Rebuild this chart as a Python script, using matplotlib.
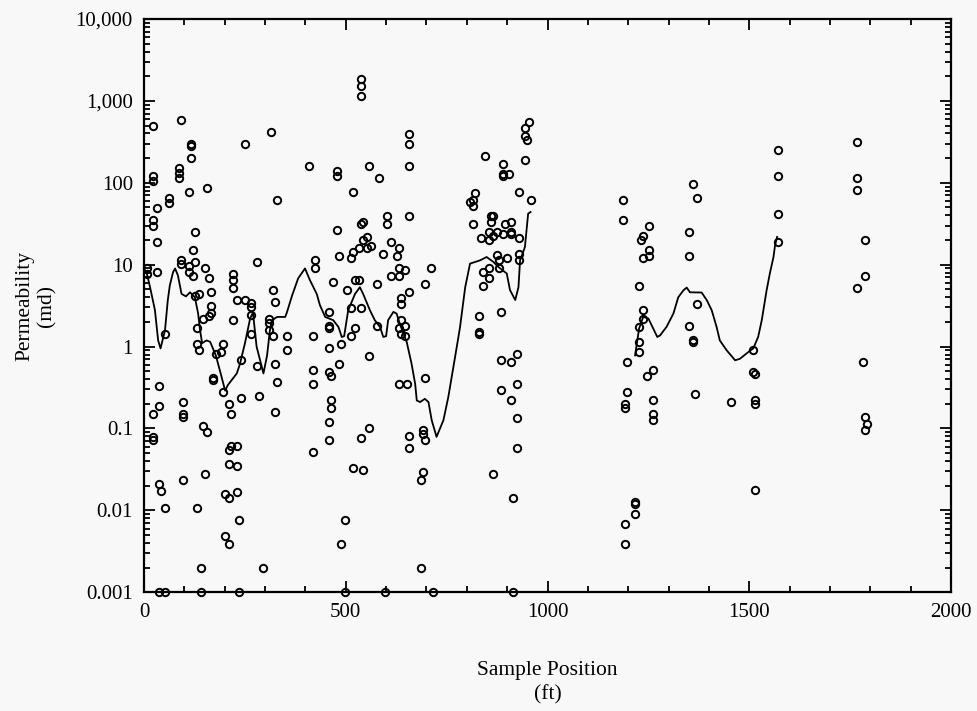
import numpy as np
import matplotlib
matplotlib.use("Agg")
import matplotlib.pyplot as plt
from matplotlib.ticker import LogLocator, NullFormatter, MultipleLocator

# ---- sample data: position (ft), permeability (md) ----
pos_ft = [
    23, 92, 116, 116, 116, 250, 315, 409, 23, 23, 87, 87, 87, 111, 156, 62, 62, 32, 330, 23, 23, 126, 32, 121,
    280, 424, 424, 32, 91, 91, 111, 111, 126, 121, 151, 161, 166, 126, 136, 166, 166, 161, 146, 221, 221, 221,
    230, 250, 265, 265, 265, 221, 320, 325, 310, 310, 310, 131, 52, 265, 320, 354, 419, 7, 7,
    131, 136, 195, 178, 191, 171, 171, 196, 240, 280, 325, 354, 330, 419, 419, 37, 37, 22, 97, 97, 97, 211, 216,
    240, 285, 325, 22, 22, 146, 156, 211, 216, 230, 211, 230, 419, 37, 42, 97, 151, 201, 211, 230, 52, 131, 235,
    201, 211, 141, 295, 37, 52, 141, 235,
    538, 538, 538, 657, 657, 657, 478, 478, 558, 582, 518, 478, 538, 543, 602, 602, 657, 483, 518, 513, 533, 543,
    553, 553, 563, 592, 612, 632, 627, 632, 647, 632, 612, 711, 696, 657, 637, 637, 468, 523, 533, 577, 503, 513,
    538, 458, 458, 458, 513, 523, 577, 637, 632, 647, 637, 647,
    458, 488, 558, 483, 458, 463, 632, 652, 696, 463, 463, 458, 458, 558, 538, 657, 657, 691, 691, 696, 518, 543,
    691, 686, 498, 488, 686, 498, 597, 716,
    954, 944, 944, 949, 944, 845, 890, 890, 905, 890, 929, 959, 820, 815, 808, 815, 815, 860, 865, 860, 895, 910,
    835, 855, 855, 865, 875, 890, 910, 910, 929, 929, 929, 875, 900, 880, 855, 880, 840, 855, 840, 830, 885, 830,
    830, 1187, 1187,
    885, 910, 924, 885, 910, 924, 924, 924, 865, 914, 914, 1197, 1197, 1192, 1192, 1217, 1217, 1217, 1192, 1192,
    1252, 1237, 1232, 1252, 1252, 1237, 1227, 1237, 1237, 1227, 1361, 1371, 1351, 1351, 1371, 1351, 1361, 1570,
    1570, 1570, 1570,
    1227, 1227, 1262, 1247, 1262, 1262, 1262, 1361, 1366, 1455, 1510, 1510, 1515, 1515, 1515, 1515,
    1768, 1768, 1768, 1787, 1787, 1768, 1783, 1787, 1792, 1787,
]
perm_md = [
    490, 590, 300, 280, 200, 296, 417, 160, 121, 104, 151, 130, 114, 77, 87, 65, 56, 49, 62, 35, 30, 25, 19, 15,
    10.8, 11.4, 9.1, 8.1, 11.4, 10.2, 9.6, 8.1, 10.8, 7.3, 9.1, 6.9, 4.6, 4.15, 4.4, 3.1, 2.6, 2.37, 2.2, 7.7, 6.5, 5.2,
    3.7, 3.7, 3.4, 3.08, 2.4, 2.1, 4.9, 3.5, 2.2, 1.96, 1.6, 1.69, 1.43, 1.43, 1.35, 1.35, 1.35, 9.0, 7.6,
    1.08, 0.91, 1.08, 0.81, 0.86, 0.41, 0.39, 0.28, 0.69, 0.58, 0.61, 0.91, 0.37, 0.52, 0.35, 0.33, 0.19, 0.15, 0.21,
    0.15, 0.14, 0.2, 0.15,
    0.235, 0.25, 0.16, 0.078, 0.072, 0.107, 0.091, 0.055, 0.061, 0.061, 0.037, 0.035, 0.052, 0.021, 0.017, 0.0235,
    0.028, 0.016, 0.014, 0.0168, 0.0107, 0.0107, 0.0076,
    0.0049, 0.0039, 0.002, 0.002, 0.001, 0.001, 0.001, 0.001,
    1850, 1515, 1146, 394, 297, 160, 139, 121, 160, 114, 77, 26.5, 31.4, 33, 39, 31, 39, 12.8, 14.3, 12.1, 16, 20,
    21.6, 16, 16.9, 13.5, 18.9, 16, 12.8, 9.1, 8.6, 7.3, 7.3, 9.1, 5.8, 4.6, 3.9, 3.3, 6.1, 6.5, 6.5, 5.8, 4.9, 2.96,
    2.96, 2.64, 1.78, 1.69, 1.35, 1.69, 1.78, 2.1, 1.69, 1.78, 1.43, 1.35,
    0.96, 1.08, 0.77, 0.61, 0.49, 0.44, 0.35, 0.35, 0.41, 0.22, 0.178, 0.12, 0.072, 0.10, 0.077, 0.081, 0.058, 0.096,
    0.085, 0.072, 0.033, 0.031,
    0.029, 0.0235, 0.0076, 0.0039, 0.002, 0.001, 0.001, 0.001,
    552, 467, 372, 332, 190, 212, 170, 128, 128, 121, 77, 62, 74, 62, 59, 52, 31, 39, 39, 33, 31, 33,
    21, 25, 20, 22.4, 25, 23.7, 25, 23.7, 21, 13.5, 11.4, 13, 12.1, 11.4, 9.1, 9.1, 8.1, 6.9, 5.5, 2.37, 2.64, 1.5,
    1.43, 62, 35,
    0.69, 0.65, 0.81, 0.295, 0.22, 0.35, 0.134, 0.058, 0.028, 0.014, 0.001, 0.65, 0.28, 0.2, 0.178, 0.0126, 0.012,
    0.009, 0.0068, 0.0039,
    29.7, 22.4, 20, 15, 12.8, 12.1, 5.5, 2.8, 2.2, 1.72, 97, 65, 25, 12.8, 3.3, 1.78, 1.2, 252,
    121, 41.5, 19,
    1.14, 0.86, 0.52, 0.44, 0.22, 0.15, 0.127, 1.14, 0.263, 0.21, 0.91, 0.49, 0.46, 0.22, 0.2, 0.0178,
    314, 114, 81, 20, 7.3, 5.2, 0.65, 0.14, 0.113, 0.096,
]

# ---- smoothed trend, two segments ----
trend1_x = [0, 7, 15, 27, 35, 41, 52, 59, 64, 72, 77, 84, 93, 104, 114, 126, 134, 139, 144, 155, 164, 178, 192,
            201, 208, 230, 238, 250, 263, 270, 279, 296, 305, 312, 317, 330, 350, 354, 367, 382, 399, 411, 428,
            436, 449, 469, 482, 490, 496, 506, 523, 535, 543, 560, 572, 585, 593, 600, 605, 618, 626, 634, 643,
            651, 663, 672, 676, 684, 696, 705, 713, 725, 742, 754, 771, 783, 796, 808, 833, 849, 866, 878, 899,
            907, 920, 928, 932, 944, 952, 958]
trend1_k = [9.0, 7.8, 5.3, 2.8, 1.19, 0.95, 1.58, 3.7, 5.6, 8.1, 9.0, 7.4, 4.4, 4.1, 4.6, 4.0, 2.55, 1.58, 1.1,
            1.19, 1.14, 0.78, 0.43, 0.29, 0.34, 0.47, 0.62, 1.09, 2.2, 2.6, 1.0, 0.47, 0.78, 1.58, 2.1, 2.3, 2.3,
            2.6, 4.2, 6.8, 9.0, 6.5, 4.4, 3.2, 2.3, 2.1, 1.73, 1.31, 1.34, 2.77, 4.4, 5.3, 4.4, 2.77, 2.1, 1.73,
            1.31, 1.34, 2.1, 2.65, 2.53, 1.9, 1.44, 1.14, 0.62, 0.35, 0.22, 0.21, 0.23, 0.21, 0.126, 0.079, 0.126,
            0.24, 0.75, 1.7, 5.3, 10.3, 11.3, 12.4, 10.8, 9.4, 7.8, 4.9, 3.7, 5.3, 11.3, 16.4, 42, 44]
trend2_x = [1217, 1227, 1237, 1250, 1262, 1272, 1279, 1295, 1312, 1324, 1337, 1345, 1353, 1382, 1395, 1407, 1419,
            1427, 1444, 1465, 1477, 1498, 1510, 1522, 1531, 1543, 1551, 1560, 1564, 1569]
trend2_k = [0.78, 1.66, 2.3, 2.2, 1.66, 1.31, 1.37, 1.74, 2.53, 4.0, 4.87, 5.25, 4.6, 4.57, 3.67, 2.77, 1.74, 1.19,
            0.9, 0.68, 0.71, 0.86, 0.95, 1.31, 2.1, 4.87, 7.8, 12.4, 17.3, 21.8]

y_ticks = [0.001, 0.01, 0.1, 1, 10, 100, 1000, 10000]
y_tick_labels = ["0.001", "0.01", "0.1", "1", "10", "100", "1,000", "10,000"]
x_ticks = [0, 500, 1000, 1500, 2000]
x_tick_labels = ["0", "500", "1000", "1500", "2000"]

plt.rcParams['font.family'] = ['Liberation Serif', 'DejaVu Serif']

fig = plt.figure(figsize=(9.77, 7.11), dpi=100, facecolor='#f8f8f8')
ax = fig.add_axes([0.1474, 0.167, 0.826, 0.8063])
ax.set_facecolor('#f8f8f8')

ax.plot(trend1_x, trend1_k, color='black', lw=1.3, zorder=2)
ax.plot(trend2_x, trend2_k, color='black', lw=1.3, zorder=2)
ax.plot(pos_ft, perm_md, linestyle='none', marker='o', ms=5.3, mfc='none', mec='black', mew=1.4,
        clip_on=False, zorder=3)

ax.set_yscale('log')
ax.set_xlim(0, 2000)
ax.set_ylim(0.001, 10000)
ax.set_yticks(y_ticks)
ax.set_yticklabels(y_tick_labels)
ax.yaxis.set_minor_locator(LogLocator(base=10, subs=np.arange(2, 10)))
ax.yaxis.set_minor_formatter(NullFormatter())
ax.set_xticks(x_ticks)
ax.set_xticklabels(x_tick_labels)
ax.xaxis.set_minor_locator(MultipleLocator(100))

for s in ax.spines.values():
    s.set_linewidth(1.6)
ax.tick_params(which='both', direction='in', top=True, right=True, labelsize=15, width=1.3)
ax.tick_params(which='major', length=8, pad=8)
ax.tick_params(which='minor', length=4)

ax.set_xlabel("Sample Position\n(ft)", fontsize=15.5, labelpad=28, linespacing=1.35)
ax.set_ylabel("Permeability\n(md)", fontsize=15.5, labelpad=14, linespacing=1.2)

fig.savefig("out.png", dpi=100, facecolor=fig.get_facecolor())
